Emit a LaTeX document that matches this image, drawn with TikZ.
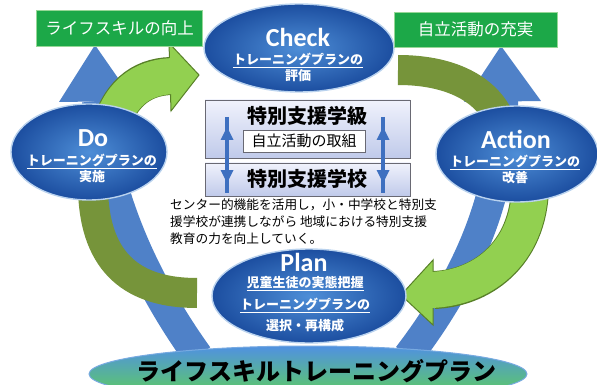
\documentclass[tikz,border=0pt]{standalone}
\usepackage{fontspec}
\setmainfont{Noto Sans CJK JP}
\newfontfamily\latf{Carlito}
\usetikzlibrary{shapes.geometric}
\definecolor{bband}{RGB}{79,129,200}
\definecolor{lime}{RGB}{146,208,80}
\definecolor{limedark}{RGB}{88,128,40}
\definecolor{olive}{RGB}{118,148,58}
\definecolor{ellin}{RGB}{78,142,215}
\definecolor{ellout}{RGB}{28,78,160}
\definecolor{ellrim}{RGB}{185,210,238}
\definecolor{gboxc}{RGB}{28,168,72}
\definecolor{gboxrim}{RGB}{150,215,150}
\definecolor{boxtop}{RGB}{240,242,252}
\definecolor{boxbot}{RGB}{192,202,234}
\definecolor{boxrim}{RGB}{105,105,115}
\definecolor{darr}{RGB}{62,112,192}
\tikzset{
  phase/.style={ellipse, inner sep=0pt, inner color=ellin, outer color=ellout, draw=ellrim, line width=1.4pt},
  ttl/.style={font=\latf\bfseries\fontsize{26}{26}\selectfont, text=white, inner sep=0pt},
  sub/.style={font=\bfseries\fontsize{13}{15}\selectfont, text=white, inner sep=0pt},
  gbox/.style={draw=gboxrim, line width=0.8pt, fill=gboxc, text=white, inner sep=0pt,
     font=\fontsize{16.5}{18}\selectfont},
  sbox/.style={draw=boxrim, line width=0.9pt, top color=boxtop, bottom color=boxbot},
  bandblue/.style={draw=bband, line width=30pt, line cap=butt},
  bandolive/.style={draw=olive, line width=30pt, line cap=butt},
  headlime/.style={fill=lime, draw=limedark, line width=1pt, line join=miter},
  hd/.style={font=\bfseries\fontsize{20}{22}\selectfont, inner sep=0pt},
}
\begin{document}
\begin{tikzpicture}[x=1pt,y=-1pt]
\useasboundingbox (0,0) rectangle (597,385);
\clip (0,0) rectangle (597,385);
\fill[white] (0,0) rectangle (597,385);

% ---- blue broad arrows ----
\coordinate (lbS) at (198,356);
\coordinate (lbE) at (97,101);
\coordinate (rbS) at (408,356);
\coordinate (rbE) at (503,101);
\draw[bandblue] (lbS) .. controls (140,275) and (105,190) .. (lbE);
\fill[bband] (59,102) -- (95,45) -- (134,101) -- cycle;
\draw[bandblue] (rbS) .. controls (470,275) and (505,190) .. (rbE);
\fill[bband] (464,102) -- (501,46) -- (541,101) -- cycle;

% ---- green arrows ----
% Do -> Check (lime, head visible)
\coordinate (g1S) at (108,135);
\coordinate (g1E) at (171,76);
\draw[limedark, line width=38pt] (g1S) .. controls (118,95) and (140,77) .. (g1E);
\filldraw[headlime] (169,43) -- (199,75) -- (171,111) -- cycle;
\draw[lime, line width=36pt] (g1S) .. controls (118,95) and (140,77) .. ([xshift=3pt]g1E);
% Check -> Action (olive)
\coordinate (g2S) at (398,70);
\coordinate (g2E) at (503,128);
\draw[bandolive] (g2S) .. controls (455,70) and (492,92) .. (g2E);
% Plan -> Do (olive)
\coordinate (g3S) at (197,293);
\coordinate (g3E) at (93,190);
\draw[bandolive] (g3S) .. controls (135,293) and (95,265) .. (g3E);
% Action -> Plan (lime, head visible)
\coordinate (g4S) at (530,180);
\coordinate (g4E) at (434,290);
\draw[limedark, line width=38pt] (g4S) .. controls (532,250) and (485,288) .. (g4E);
\filldraw[headlime] (433,260) -- (401,295) -- (433,325) -- cycle;
\draw[lime, line width=36pt] (g4S) .. controls (532,250) and (485,288) .. ([xshift=-3pt]g4E);

% ---- phase ellipses ----
\node[phase, minimum width=190pt, minimum height=88pt] (check) at (299,48) {};
\node[ttl] (checkT) at (298,37) {Check};
\node[sub] (checkA) at (298,60) {\underline{トレーニングプランの}};
\node[sub] (checkB) at (298,76) {評価};

\node[phase, minimum width=156pt, minimum height=96pt] (do) at (89,152) {};
\node[ttl] (doT) at (93,138) {Do};
\node[sub] (doA) at (92,161) {\underline{トレーニングプランの}};
\node[sub] (doB) at (92,177) {実施};

\node[phase, minimum width=162pt, minimum height=96pt] (action) at (517,154) {};
\node[ttl] (actionT) at (516,139) {Action};
\node[sub] (actionA) at (515,162) {\underline{トレーニングプランの}};
\node[sub] (actionB) at (515,178) {改善};

\node[phase, minimum width=194pt, minimum height=94pt] (plan) at (309,296) {};
\node[ttl] (planT) at (304,262) {Plan};
\node[sub] (planA) at (305,284) {\underline{児童生徒の実態把握}};
\node[sub] (planB) at (305,305) {\underline{トレーニングプランの}};
\node[sub] (planC) at (305,326) {選択・再構成};

% ---- base ellipse ----
\node[ellipse, minimum width=438pt, minimum height=56pt, inner sep=0pt,
  top color={rgb,255:red,80;green,145;blue,225}, middle color={rgb,255:red,125;green,205;blue,140},
  bottom color={rgb,255:red,95;green,212;blue,80}, draw={rgb,255:red,120;green,170;blue,225}, line width=1pt]
  (base) at (308,374) {};
\node[font=\bfseries\fontsize{24}{26}\selectfont, inner sep=0pt] (baseT) at (316,371) {ライフスキルトレーニングプラン};

% ---- green boxes ----
\node[gbox, minimum width=166pt, minimum height=36pt] (lifeup) at (119.5,28) {ライフスキルの向上};
\node[gbox, minimum width=163pt, minimum height=35pt] (jiritsu) at (475.5,29.5) {自立活動の充実};

% ---- central boxes ----
\node[sbox, minimum width=205pt, minimum height=58pt, inner sep=0pt] (kyu) at (307.5,129) {};
\node[sbox, minimum width=205pt, minimum height=33pt, inner sep=0pt] (kou) at (307.5,179.5) {};
\node[hd] (kyuT) at (307,116) {特別支援学級};
\node[hd] (kouT) at (307,179) {特別支援学校};
\node[draw=boxrim, fill=white, line width=0.8pt, minimum width=122pt, minimum height=22pt, inner sep=0pt,
  font=\fontsize{15}{16}\selectfont] (tori) at (304,141) {自立活動の取組};

% double arrows
\foreach \ax/\nm in {227/la, 383/ra}{
  \coordinate (\nm t) at (\ax,127);
  \coordinate (\nm b) at (\ax,183);
  \draw[darr, line width=4.5pt] ([yshift=10pt]\nm t) -- ([yshift=-10pt]\nm b);
  \fill[darr] (\nm t) -- ++(6.5,13) -- ++(-13,0) -- cycle;
  \fill[darr] (\nm b) -- ++(6.5,-13) -- ++(-13,0) -- cycle;
}

% paragraph
\node[anchor=north west, align=left, inner sep=0pt, font=\fontsize{12.7}{17}\selectfont] (para) at (170,199)
  {センター的機能を活用し，小・中学校と特別支\\援学校が連携しながら 地域における特別支援\\教育の力を向上していく。};
\end{tikzpicture}
\end{document}
